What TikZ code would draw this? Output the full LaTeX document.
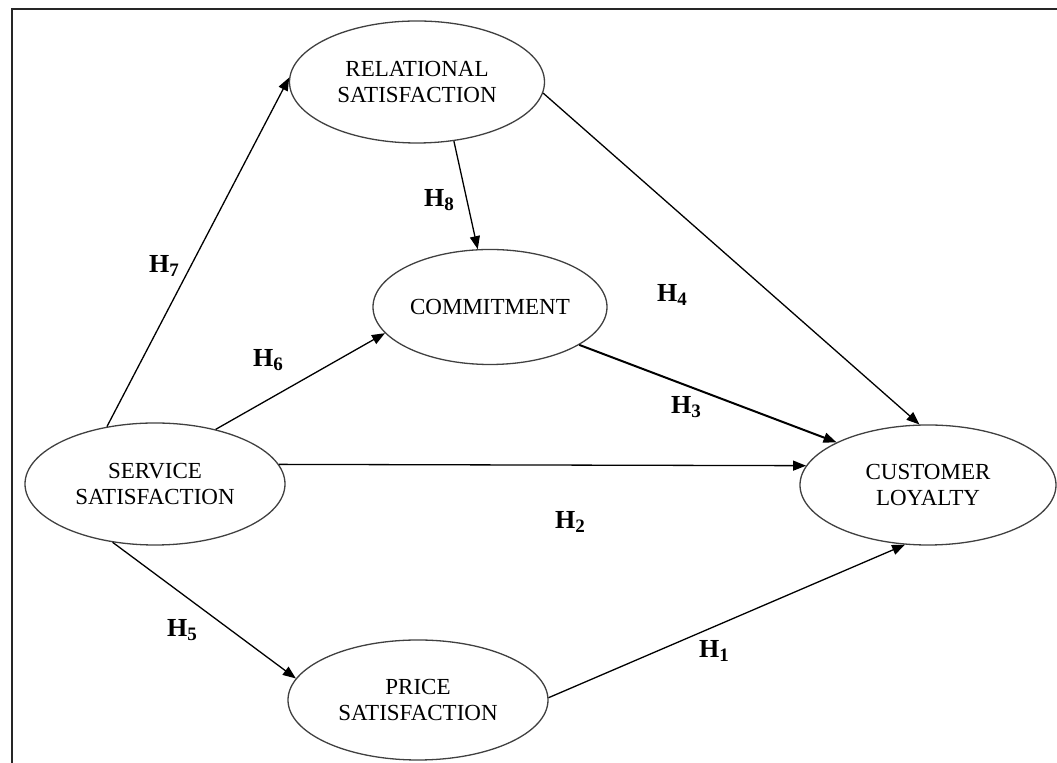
\documentclass[tikz,border=0pt]{standalone}
\usepackage{fontspec}
\setmainfont{Liberation Serif}
\usetikzlibrary{shapes.geometric,arrows.meta,positioning}

\newcommand{\hyplabel}[1]{H\raisebox{-0.4ex}{\fontsize{9.5}{10}\selectfont #1}}

\begin{document}
\begin{tikzpicture}[
  x=0.5pt, y=-0.5pt,
  every node/.style={font=\fontsize{11.5}{13}\selectfont},
  construct/.style={ellipse, draw=black!75, line width=0.65pt, align=center, inner sep=0pt},
  hyp/.style={font=\fontsize{13}{14}\selectfont\bfseries},
  arr/.style={-{Triangle[length=6.5pt,width=5pt]}, draw=black, line width=0.65pt}]

\useasboundingbox (0,0) rectangle (1057,763);
\draw[black!85, line width=1pt] (11.5,763) -- (11.5,9.5) -- (1057,9.5);

\node[construct, minimum width=127.5pt, minimum height=61pt] (relsat) at (417,82) {RELATIONAL\\SATISFACTION};
\node[construct, minimum width=117pt, minimum height=57.5pt] (commit) at (490,307) {COMMITMENT};
\node[construct, minimum width=130pt, minimum height=61pt] (servsat) at (155,484) {SERVICE\\SATISFACTION};
\node[construct, minimum width=128pt, minimum height=60pt] (loyalty) at (928,485) {CUSTOMER\\LOYALTY};
\node[construct, minimum width=130pt, minimum height=60pt] (pricesat) at (418,700) {PRICE\\SATISFACTION};

\node[hyp] (h7) at (164,266) {\hyplabel{7}};
\node[hyp] (h6) at (268,360) {\hyplabel{6}};
\node[hyp] (h2) at (570,522) {\hyplabel{2}};
\node[hyp] (h5) at (182,630) {\hyplabel{5}};
\node[hyp] (h8) at (439,200) {\hyplabel{8}};
\node[hyp] (h4) at (672,295) {\hyplabel{4}};
\node[hyp] (h3) at (686,407) {\hyplabel{3}};
\node[hyp] (h1) at (714,651) {\hyplabel{1}};

\draw[arr] (servsat.130) -- (relsat.178);
\draw[arr] (servsat.42) -- (commit.194);
\draw[arr] (servsat.9) -- (loyalty.171);
\draw[arr] (servsat.234) -- (pricesat.170);
\draw[arr] (relsat.302) -- (commit.102);
\draw[arr] (relsat.355) -- (loyalty.98);
\draw[arr, line width=1pt] (commit.337) -- (loyalty.155);
\draw[arr] (pricesat.1) -- (loyalty.249);
\end{tikzpicture}
\end{document}
